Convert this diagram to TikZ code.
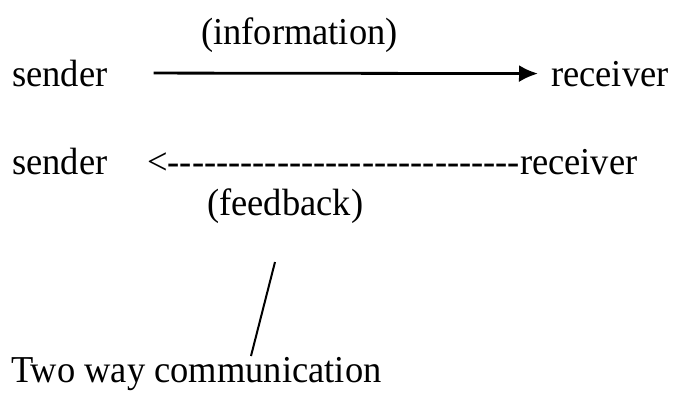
\documentclass[tikz,border=0pt]{standalone}
\usepackage{fontspec}
\setmainfont{Liberation Serif}[Ligatures=TeXOff, FakeStretch=0.96]
\usetikzlibrary{arrows.meta,positioning}
\tikzstyle{word} = [inner sep=0pt, anchor=base west, font=\fontsize{38}{42}\selectfont]
\tikzstyle{flow} = [-{Latex[length=19pt,width=17pt]}, line width=2.8pt, black]

\begin{document}
\begin{tikzpicture}[x=1pt,y=-1pt]
    \useasboundingbox (0,0) rectangle (675,394);
    % forward channel
    \node (info) [word] at (201,44) {(information)};
    \node (sendA) [word] at (12,86) {sender};
    \node (recvA) [word] at (551,86) {receiver};
    \draw[flow, shorten <=46pt, shorten >=13pt] (sendA.east) -- (recvA.west);
    % return channel, typed out
    \node (sendB) [word] at (12,174) {sender};
    \node (recvB) [word] at (147,174) {<-----------------------------receiver};
    \node (feedback) [word] at (207,215) {(feedback)};
    % pointer down to the caption
    \coordinate (tickTop) at (275,262);
    \coordinate (tickEnd) at (251,356);
    \draw[line width=2pt] (tickTop) -- (tickEnd);
    \node (twoway) [word] at (11,382) {Two way communication};
\end{tikzpicture}
\end{document}
